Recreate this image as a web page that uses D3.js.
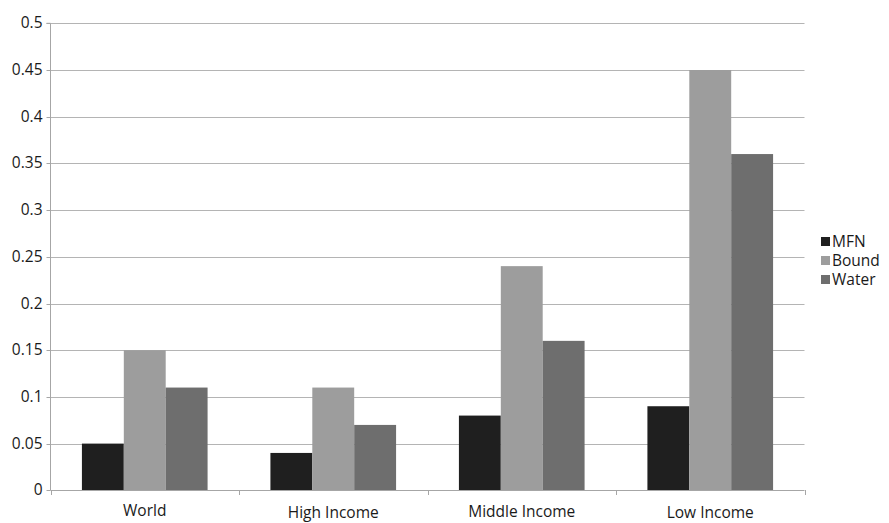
<!DOCTYPE html>
<html><head><meta charset="utf-8">
<script src="https://cdn.jsdelivr.net/npm/d3@7"></script>
<style>body{margin:0;background:#fff}svg{display:block}</style>
</head><body>
<script>
const categories = ["World","High Income","Middle Income","Low Income"];
const seriesNames = ["MFN","Bound","Water"];
const mfn   = [0.05,0.04,0.08,0.09];
const bound = [0.15,0.11,0.24,0.45];
const water = [0.11,0.07,0.16,0.36];
const yTicks = [0,0.05,0.1,0.15,0.2,0.25,0.3,0.35,0.4,0.45,0.5];
const yTickLabels = ["0","0.05","0.1","0.15","0.2","0.25","0.3","0.35","0.4","0.45","0.5"];
const colors = ["#1f1f1f","#9d9d9d","#6e6e6e"];
const values = [mfn,bound,water];

(function(){
const W=889,H=523;
const svg=d3.select("body").append("svg").attr("width",W).attr("height",H);
const font="'Open Sans', Lato, sans-serif";
const fs=15.5;
const pL=50.5,pR=804.5,pT=23.3,pB=490.3;
const y=d3.scaleLinear().domain([0,0.5]).range([pB,pT]);
const x0=d3.scaleBand().domain(categories).range([pL,pR]).paddingInner(0).paddingOuter(0);
const bw=x0.bandwidth()/4.5;
const x1=d3.scaleBand().domain(seriesNames).range([bw*0.75,bw*3.75]).padding(0);

svg.append("g").selectAll("line").data(yTicks.filter(d=>d>0)).join("line")
  .attr("x1",pL).attr("x2",pR).attr("y1",d=>Math.round(y(d))+0.5).attr("y2",d=>Math.round(y(d))+0.5)
  .attr("stroke","#b4b4b4").attr("stroke-width",1);

categories.forEach((c,i)=>{
  seriesNames.forEach((s,j)=>{
    svg.append("rect")
      .attr("x",x0(c)+x1(s)).attr("width",x1.bandwidth())
      .attr("y",y(values[j][i])).attr("height",y(0)-y(values[j][i]))
      .attr("fill",colors[j]);
  });
});

const yAxis=d3.axisLeft(y).tickValues(yTicks).tickFormat((d,i)=>yTickLabels[i]).tickSize(4).tickPadding(4);
const ga=svg.append("g").attr("transform",`translate(${pL},0)`).call(yAxis);
ga.select(".domain").attr("stroke","#a6a6a6").attr("d",`M-4,${pT}H0V${pB}`);
ga.selectAll(".tick line").attr("stroke","#a6a6a6");
ga.selectAll(".tick text").attr("font-family",font).attr("font-size",fs).attr("fill","#1a1a1a");
ga.selectAll(".tick").attr("transform",d=>`translate(0,${Math.round(y(d))+0.5})`);

svg.append("line").attr("x1",pL).attr("x2",pR).attr("y1",Math.round(pB)+0.5).attr("y2",Math.round(pB)+0.5).attr("stroke","#a6a6a6");
const bounds=categories.map(c=>x0(c)).concat([pR]);
svg.append("g").selectAll("line").data(bounds).join("line")
  .attr("x1",d=>Math.round(d)+0.5).attr("x2",d=>Math.round(d)+0.5)
  .attr("y1",Math.round(pB)).attr("y2",Math.round(pB)+5).attr("stroke","#a6a6a6");
const labelY=[516,518,517,518];
svg.append("g").selectAll("text").data(categories).join("text")
  .attr("x",d=>x0(d)+x0.bandwidth()/2).attr("y",(d,i)=>labelY[i])
  .attr("text-anchor","middle").attr("font-family",font).attr("font-size",fs).attr("fill","#1a1a1a").text(d=>d);

const lg=svg.append("g").attr("transform","translate(821,237)");
seriesNames.forEach((s,j)=>{
  const g=lg.append("g").attr("transform",`translate(0,${j*19})`);
  g.append("rect").attr("width",9).attr("height",9).attr("fill",colors[j]);
  g.append("text").attr("x",11).attr("y",10).attr("font-family",font).attr("font-size",fs).attr("fill","#1a1a1a").text(s);
});
})();
</script>
</body></html>
